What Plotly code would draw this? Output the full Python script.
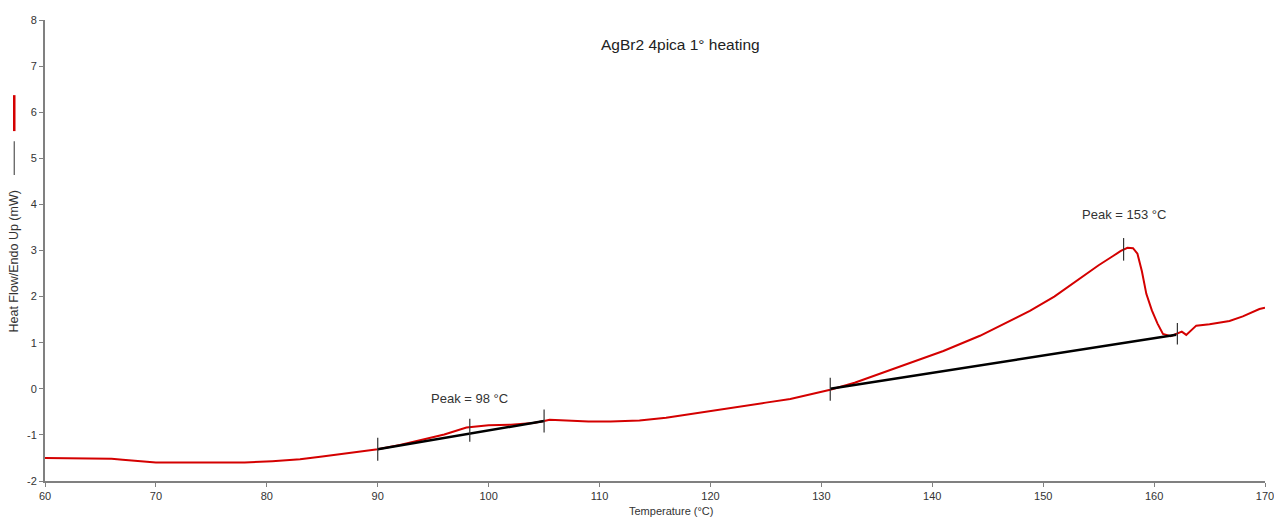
import plotly.graph_objects as go

# Heat flow curve (red)
temp = [60, 63, 64.5, 66, 67, 68, 69, 70, 74, 78, 80.5, 83, 85, 87, 90, 92, 94, 96, 98,
        100, 102, 104, 105, 105.5, 107, 109, 111, 113.6, 116, 118, 120, 122.6, 125, 127.2,
        130.8, 133, 135.3, 138, 141, 144.3, 146.5, 148.8, 151, 153.3, 155, 156.3, 157,
        157.6, 158.1, 158.5, 158.9, 159.3, 159.8, 160.3, 160.8, 161.5, 162.1, 162.5,
        162.9, 163.3, 163.8, 165, 166.8, 168, 169.5, 170]
heat = [-1.50, -1.51, -1.53, -1.52, -1.54, -1.56, -1.58, -1.60, -1.60, -1.60, -1.57,
        -1.53, -1.47, -1.41, -1.31, -1.22, -1.11, -0.99, -0.84,
        -0.79, -0.78, -0.74, -0.70, -0.67, -0.69, -0.71, -0.71, -0.69, -0.63, -0.56, -0.49,
        -0.40, -0.30, -0.22, -0.02, 0.13, 0.33, 0.55, 0.82, 1.15, 1.41, 1.69, 2.00, 2.39,
        2.68, 2.88, 2.99, 3.06, 3.05, 2.93, 2.55, 2.06, 1.70, 1.42, 1.19, 1.14, 1.20, 1.24,
        1.17, 1.25, 1.37, 1.40, 1.47, 1.57, 1.73, 1.76]

# Baselines (black)
base1_x = [90, 105]
base1_y = [-1.31, -0.70]
base2_x = [130.8, 162]
base2_y = [0.00, 1.17]

# Vertical marker ticks
mark_x = [90, 98.3, 105, 130.8, 157.25, 162.1]
mark_lo = [-1.56, -1.15, -0.95, -0.26, 2.78, 0.96]
mark_hi = [-1.06, -0.65, -0.45, 0.24, 3.27, 1.43]

# Peak labels
peak_x = [98.3, 157.3]
peak_y = [-0.2, 3.78]
peak_text = ["Peak = 98 °C", "Peak = 153 °C"]

x_ticks = [60, 70, 80, 90, 100, 110, 120, 130, 140, 150, 160, 170]
y_ticks = [-2, -1, 0, 1, 2, 3, 4, 5, 6, 7, 8]

title_text = "AgBr2 4pica 1° heating"
x_title = "Temperature (°C)"
y_title = "Heat Flow/Endo Up (mW)"

fig = go.Figure()

fig.add_trace(go.Scatter(x=temp, y=heat, mode="lines",
                         line=dict(color="#d40000", width=2), hoverinfo="skip"))
fig.add_trace(go.Scatter(x=base1_x, y=base1_y, mode="lines",
                         line=dict(color="#000000", width=2.5), hoverinfo="skip"))
fig.add_trace(go.Scatter(x=base2_x, y=base2_y, mode="lines",
                         line=dict(color="#000000", width=2.5), hoverinfo="skip"))

mx, my = [], []
for xv, lo, hi in zip(mark_x, mark_lo, mark_hi):
    mx += [xv, xv, None]
    my += [lo, hi, None]
fig.add_trace(go.Scatter(x=mx, y=my, mode="lines",
                         line=dict(color="#333333", width=1.2), hoverinfo="skip"))

font_main = "Liberation Sans, Arial, sans-serif"

for xv, yv, t in zip(peak_x, peak_y, peak_text):
    fig.add_annotation(x=xv, y=yv, text=t, showarrow=False,
                       font=dict(family=font_main, size=13, color="#333333"))

fig.add_annotation(x=117.3, y=7.46, text=title_text, showarrow=False,
                   font=dict(family=font_main, size=15.5, color="#222222"))

fig.add_annotation(xref="paper", yref="paper", x=0.513, y=-0.064, text=x_title,
                   showarrow=False, yanchor="middle",
                   font=dict(family=font_main, size=11, color="#333333"))

fig.add_annotation(xref="paper", yref="paper", x=-0.025, y=0.475, text=y_title,
                   showarrow=False, textangle=-90, xanchor="center", yanchor="middle",
                   font=dict(family=font_main, size=12.5, color="#333333"))

# legend-like strokes at left
fig.add_shape(type="line", xref="paper", yref="paper", x0=-0.0252, x1=-0.0252,
              y0=0.837, y1=0.759, line=dict(color="#d40000", width=2.5))
fig.add_shape(type="line", xref="paper", yref="paper", x0=-0.0252, x1=-0.0252,
              y0=0.737, y1=0.664, line=dict(color="#555555", width=1.2))

fig.update_layout(
    width=1274, height=517,
    margin=dict(l=45, r=9, t=20, b=36, autoexpand=False),
    paper_bgcolor="white", plot_bgcolor="white",
    showlegend=False,
    font=dict(family=font_main, size=11, color="#333333"),
)
fig.update_xaxes(range=[60, 170], tickvals=x_ticks, ticktext=[str(v) for v in x_ticks],
                 showgrid=False, zeroline=False, showline=True, linecolor="#808080",
                 linewidth=2, ticks="outside", ticklen=4, tickcolor="#808080",
                 automargin=False, ticklabeloverflow="allow",
                 tickfont=dict(size=11, color="#333333"))
fig.update_yaxes(range=[-2, 8], tickvals=y_ticks, ticktext=[str(v) for v in y_ticks],
                 showgrid=False, zeroline=False, showline=True, linecolor="#808080",
                 linewidth=2, ticks="outside", ticklen=4, tickcolor="#808080",
                 automargin=False, ticklabeloverflow="allow",
                 tickfont=dict(size=11, color="#333333"))

fig.write_html("out.html")
